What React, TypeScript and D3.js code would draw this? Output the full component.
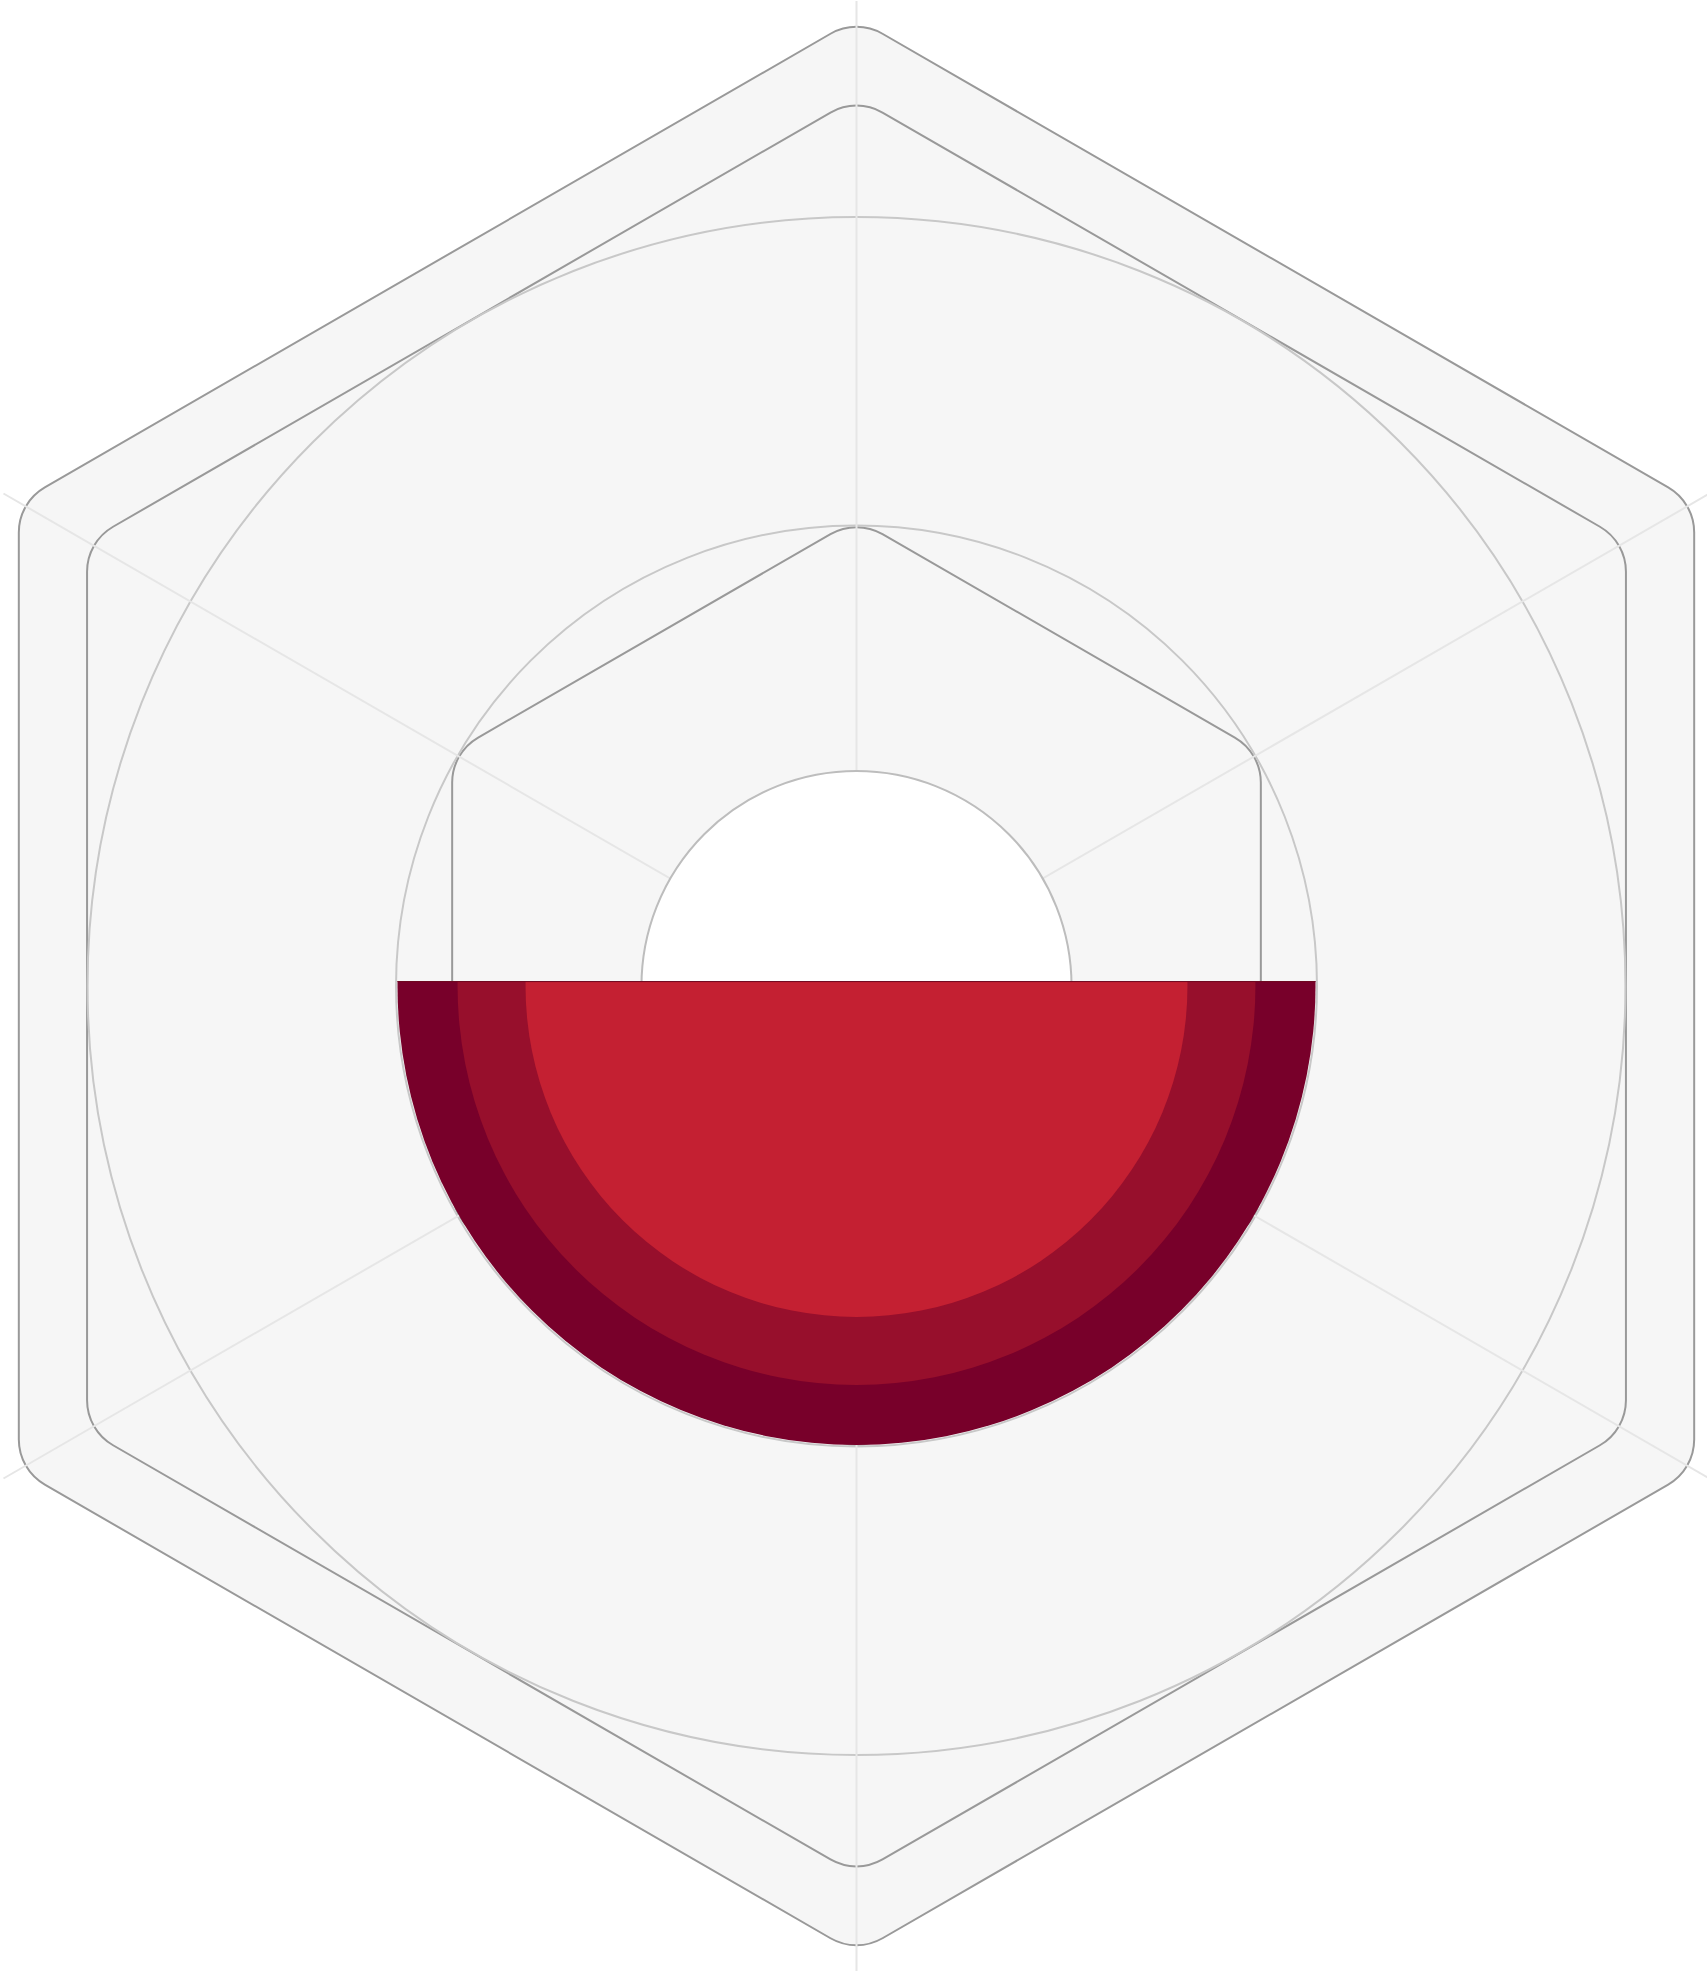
import React from "react";
import * as d3 from "d3";

// ---- data (radial units, 0..100) ----
const axisAngles = [0, 60, 120, 180, 240, 300]; // degrees, clockwise from 12 o'clock
const axisExtent = 100;
const hexRings = [98.2, 90.2, 47.4]; // circumradius of rounded hexagon grid
const circleRings = [78.07, 46.75]; // circular grid
const holeRadius = 21.83; // white inner disc
const layerNames = ["inner", "middle", "outer"];
const layerValues = [33.6, 6.9, 6.1]; // stacked radial segments
const layerColors = ["#c42032", "#970f2c", "#78002a"];
const cutOffset = 0.5; // flat top of the red half, above centre

const W = 1707;
const H = 1974;
const cx = 856.5;
const cy = 986;
const cornerRadius = 52;

function roundedPolygon(pts: [number, number][], rc: number): string {
  const n = pts.length;
  let d = "";
  for (let i = 0; i < n; i++) {
    const p0 = pts[(i - 1 + n) % n];
    const p1 = pts[i];
    const p2 = pts[(i + 1) % n];
    const v1 = [p0[0] - p1[0], p0[1] - p1[1]];
    const v2 = [p2[0] - p1[0], p2[1] - p1[1]];
    const l1 = Math.hypot(v1[0], v1[1]);
    const l2 = Math.hypot(v2[0], v2[1]);
    const ang = Math.acos((v1[0] * v2[0] + v1[1] * v2[1]) / (l1 * l2));
    const t = rc / Math.tan(ang / 2);
    const a = [p1[0] + (v1[0] / l1) * t, p1[1] + (v1[1] / l1) * t];
    const b = [p1[0] + (v2[0] / l2) * t, p1[1] + (v2[1] / l2) * t];
    d += (i === 0 ? "M" : "L") + a[0] + "," + a[1];
    d += "A" + rc + "," + rc + " 0 0 1 " + b[0] + "," + b[1];
  }
  return d + "Z";
}

export default function App() {
  const r = d3.scaleLinear().domain([0, 100]).range([0, 985]);

  const hexPts = (R: number): [number, number][] =>
    d3.range(6).map((i) => {
      const a = ((-90 + i * 60) * Math.PI) / 180;
      return [cx + r(R) * Math.cos(a), cy + r(R) * Math.sin(a)];
    });

  const stacked = layerValues.map((v, i) => ({
    name: layerNames[i],
    r0: d3.sum(layerValues.slice(0, i)),
    r1: d3.sum(layerValues.slice(0, i + 1)),
    color: layerColors[i],
  }));

  const arc = d3.arc<any>();
  const topY = cy - r(cutOffset);

  return (
    <svg
      width={W}
      height={H}
      style={{ position: "absolute", left: 0, top: 0, background: "#fff" }}
    >
      <defs>
        <clipPath id="lowerHalf" clipPathUnits="userSpaceOnUse">
          <rect x={0} y={topY} width={W} height={H - topY} />
        </clipPath>
      </defs>
      <path d={roundedPolygon(hexPts(hexRings[0]), cornerRadius)} fill="#f6f6f6" />
      {hexRings.map((R, i) => (
        <path
          key={"hex" + i}
          d={roundedPolygon(hexPts(R), cornerRadius)}
          fill="none"
          stroke="#999"
          strokeWidth={2}
        />
      ))}
      {circleRings.map((c, i) => (
        <circle key={"c" + i} cx={cx} cy={cy} r={r(c)} fill="none" stroke="#c8c8c8" strokeWidth={2} />
      ))}
      {axisAngles.map((deg) => {
        const a = (deg * Math.PI) / 180;
        return (
          <line
            key={"ax" + deg}
            x1={cx}
            y1={cy}
            x2={cx + r(axisExtent) * Math.sin(a)}
            y2={cy - r(axisExtent) * Math.cos(a)}
            stroke="#e6e6e6"
            strokeWidth={2}
          />
        );
      })}
      <circle cx={cx} cy={cy} r={r(holeRadius)} fill="#fff" stroke="#bdbdbd" strokeWidth={2} />
      <g clipPath="url(#lowerHalf)">
        <g transform={`translate(${cx},${cy})`}>
          {stacked
            .slice()
            .reverse()
            .map((s) => (
              <path
                key={s.name}
                d={arc({ innerRadius: 0, outerRadius: r(s.r1), startAngle: 0, endAngle: 2 * Math.PI }) as string}
                fill={s.color}
              />
            ))}
        </g>
      </g>
      <line
        x1={cx - r(d3.sum(layerValues))}
        x2={cx + r(d3.sum(layerValues))}
        y1={topY + 0.5}
        y2={topY + 0.5}
        stroke="#6e0a22"
        strokeWidth={1}
      />
    </svg>
  );
}
